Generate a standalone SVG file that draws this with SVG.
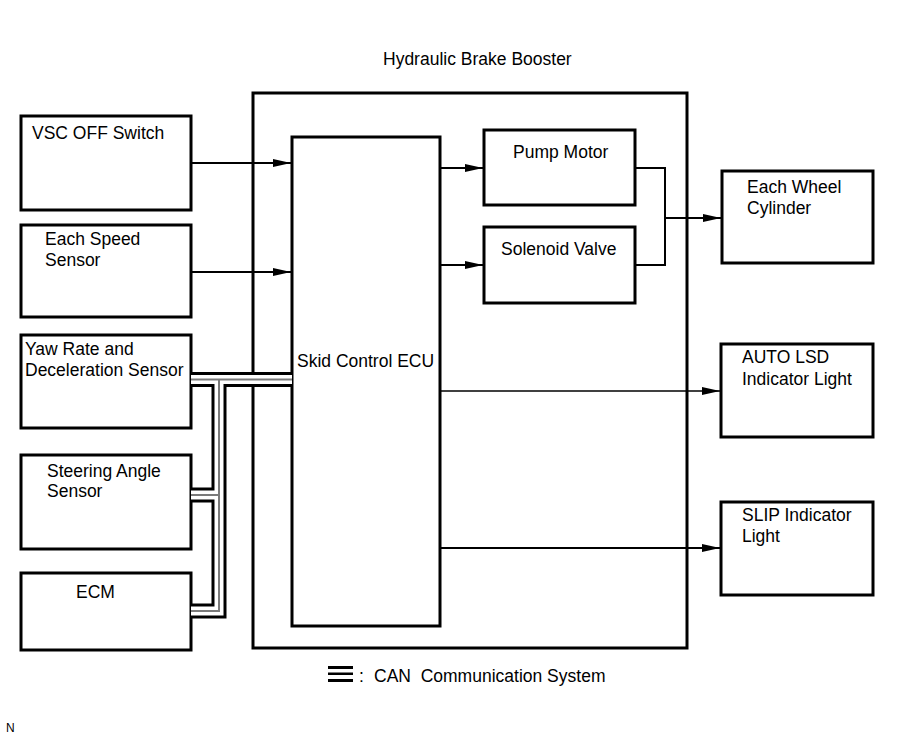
<svg xmlns="http://www.w3.org/2000/svg" width="907" height="739" viewBox="0 0 907 739">
<style>
  .box{fill:none;stroke:#000;stroke-width:3}
  .t{font-family:"Liberation Sans",Arial,sans-serif;font-size:17.5px;fill:#000}
  .c{fill:none;stroke:#000;stroke-width:2}
  .thin{fill:none;stroke:#000;stroke-width:1.6}
  .busO{fill:none;stroke:#000;stroke-width:15;stroke-linejoin:miter}
  .busW{fill:none;stroke:#fff;stroke-width:9;stroke-linejoin:miter}
  .busG{fill:none;stroke:#7a7a7a;stroke-width:2;stroke-linejoin:miter}
</style>
<defs>
  <marker id="ah" markerWidth="18" markerHeight="8" refX="18" refY="4" orient="auto" markerUnits="userSpaceOnUse">
    <path d="M0,0 L18,4 L0,8 Z" fill="#000"/>
  </marker>
</defs>
<rect width="907" height="739" fill="#fff"/>

<text class="t" x="383" y="65">Hydraulic Brake Booster</text>

<g id="booster"><rect class="box" x="253" y="93" width="434" height="555"/></g>

<g id="ecu"><rect class="box" x="292" y="137" width="148" height="489"/>
  <text class="t" x="297" y="367">Skid Control ECU</text></g>

<g id="vsc"><rect class="box" x="21" y="116" width="170" height="94"/>
  <text class="t" x="32" y="139">VSC OFF Switch</text></g>

<g id="speed"><rect class="box" x="21" y="225" width="170" height="92"/>
  <text class="t" x="45" y="245">Each Speed</text>
  <text class="t" x="45" y="266">Sensor</text></g>

<g id="yaw"><rect class="box" x="21" y="335" width="170" height="93"/>
  <text class="t" x="25" y="355">Yaw Rate and</text>
  <text class="t" x="25" y="376">Deceleration Sensor</text></g>

<g id="steer"><rect class="box" x="21" y="455" width="170" height="94"/>
  <text class="t" x="47" y="477">Steering Angle</text>
  <text class="t" x="47" y="497">Sensor</text></g>

<g id="ecm"><rect class="box" x="21" y="573" width="170" height="77"/>
  <text class="t" x="76" y="598">ECM</text></g>

<g id="pump"><rect class="box" x="484" y="130" width="151" height="75"/>
  <text class="t" x="513" y="158">Pump Motor</text></g>

<g id="solenoid"><rect class="box" x="484" y="227" width="151" height="76"/>
  <text class="t" x="501" y="255">Solenoid Valve</text></g>

<g id="wheel"><rect class="box" x="722" y="171" width="151" height="92"/>
  <text class="t" x="747" y="193">Each Wheel</text>
  <text class="t" x="747" y="214">Cylinder</text></g>

<g id="autolsd"><rect class="box" x="721" y="344" width="152" height="93"/>
  <text class="t" x="742" y="363">AUTO LSD</text>
  <text class="t" x="742" y="385">Indicator Light</text></g>

<g id="slip"><rect class="box" x="721" y="502" width="152" height="93"/>
  <text class="t" x="742" y="521">SLIP Indicator</text>
  <text class="t" x="742" y="542">Light</text></g>

<g id="connectors">
  <line class="c" x1="191" y1="163" x2="291" y2="163" marker-end="url(#ah)"/>
  <line class="c" x1="191" y1="272" x2="291" y2="272" marker-end="url(#ah)"/>
  <line class="c" x1="440" y1="168" x2="483" y2="168" marker-end="url(#ah)"/>
  <line class="c" x1="440" y1="265" x2="483" y2="265" marker-end="url(#ah)"/>
  <polyline class="c" points="635,168 665,168 665,265 635,265"/>
  <line class="c" x1="665" y1="218" x2="721" y2="218" marker-end="url(#ah)"/>
  <line class="thin" x1="440" y1="391" x2="720" y2="391" marker-end="url(#ah)"/>
  <line class="c" x1="440" y1="548" x2="720" y2="548" marker-end="url(#ah)"/>
  <g id="can-bus">
    <path class="busO" d="M191,379.5 H292 M219,379.5 V611 H191 M219,495 H191"/>
    <path class="busW" d="M191,379.5 H292 M219,379.5 V611 H191 M219,495 H191"/>
    <path class="busG" d="M191,379.5 H292 M219,379.5 V611 H191 M219,495 H191"/>
  </g>
</g>

<g id="legend">
  <rect x="328" y="666" width="25" height="3" fill="#000"/>
  <rect x="328" y="672.5" width="25" height="2.5" fill="#000"/>
  <rect x="328" y="679" width="25" height="3" fill="#000"/>
  <text class="t" x="359" y="682">:</text>
  <text class="t" x="374" y="682" style="white-space:pre">CAN  Communication System</text>
</g>

<text x="6" y="732" style="font-family:'Liberation Sans',Arial,sans-serif;font-size:12px">N</text>
</svg>
